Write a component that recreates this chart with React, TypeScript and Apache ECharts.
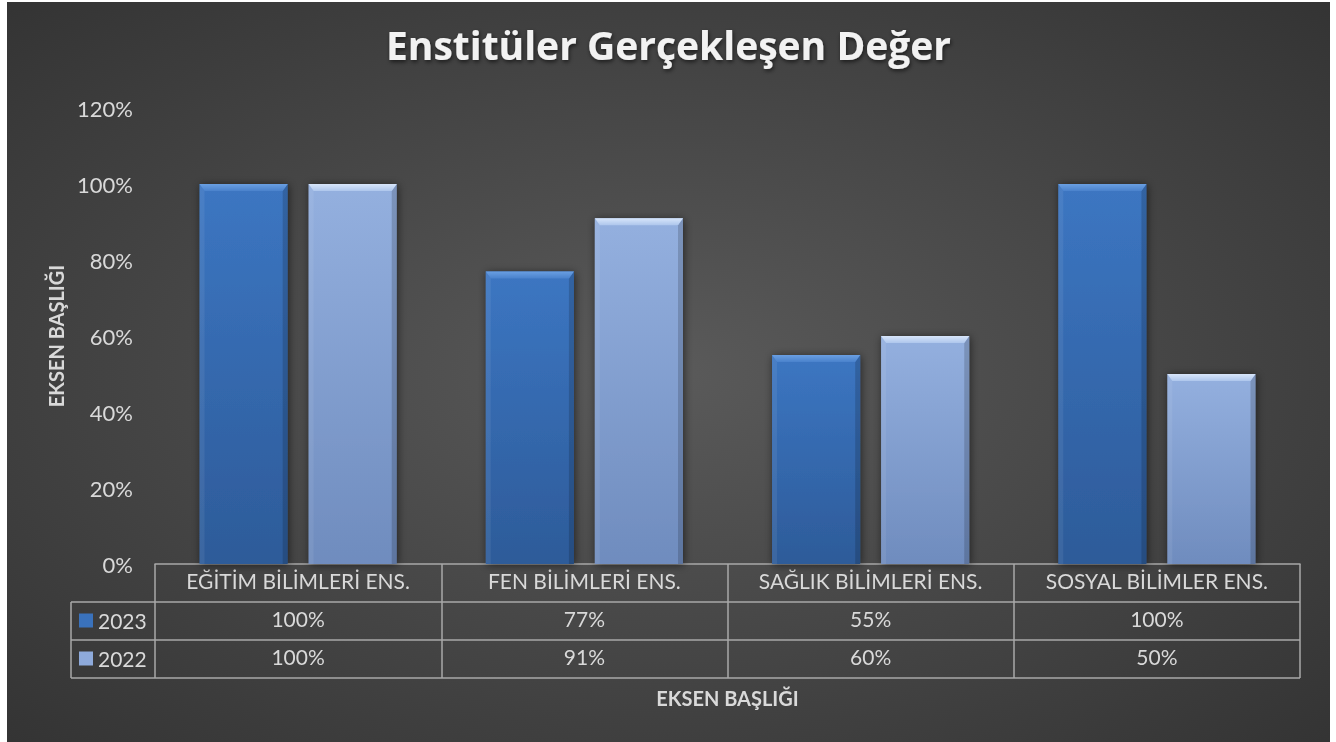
import React, { useEffect, useRef } from "react";
import * as echarts from "echarts";

const categories = [
  "EĞİTİM BİLİMLERİ ENS.",
  "FEN BİLİMLERİ ENS.",
  "SAĞLIK BİLİMLERİ ENS.",
  "SOSYAL BİLİMLER ENS.",
];
const seriesNames = ["2023", "2022"];
const values2023 = [100, 77, 55, 100];
const values2022 = [100, 91, 60, 50];
const yMin = 0;
const yMax = 120;
const yInterval = 20;
const titleText = "Enstitüler Gerçekleşen Değer";
const axisTitle = "EKSEN BAŞLIĞI";

const W = 1323;
const H = 740;
const GRID = { left: 148, right: 30, top: 106, bottom: 178 };
const ROW_H = 38;
const ROW_LEFT = 64;
const LINE_COLOR = "#a8a8a8";
const TEXT_COLOR = "#d9d9d9";
const FONT = "Lato, 'Open Sans', sans-serif";
const LABEL_SIZE = 21;

const palettes = [
  {
    base: "#3a72bc",
    body: ["#3c76c2", "#2d5b99"],
    top: ["#6a9fe2", "#4a82cc"],
  },
  {
    base: "#8eaadb",
    body: ["#94b0df", "#6f8cbe"],
    top: ["#d8e6fa", "#aec6ec"],
  },
];

function pct(v: number) {
  return v + "%";
}

function makeRender(s: number) {
  const p = palettes[s];
  return (_params: any, api: any) => {
    const cat = api.value(0);
    const val = api.value(1);
    const base = api.coord([cat, 0]);
    const topPt = api.coord([cat, val]);
    const band = api.size([1, 0])[0];
    const bw = band * 0.308;
    const gap = band * 0.073;
    const cx = base[0];
    const x = s === 0 ? cx - gap / 2 - bw : cx + gap / 2;
    const y0 = base[1];
    const y1 = topPt[1];
    const h = y0 - y1;
    const b = 7;
    const sd = 5;
    return {
      type: "group",
      children: [
        {
          type: "rect",
          shape: { x, y: y1, width: bw, height: h },
          style: {
            fill: new echarts.graphic.LinearGradient(0, 0, 0, 1, [
              { offset: 0, color: p.body[0] },
              { offset: 1, color: p.body[1] },
            ]),
            shadowBlur: 8,
            shadowColor: "rgba(0,0,0,0.55)",
            shadowOffsetX: 1,
            shadowOffsetY: 1,
          },
        },
        {
          type: "polygon",
          shape: {
            points: [
              [x, y1],
              [x + sd, y1 + b],
              [x + sd, y0],
              [x, y0],
            ],
          },
          style: { fill: "rgba(255,255,255,0.07)" },
        },
        {
          type: "polygon",
          shape: {
            points: [
              [x + bw, y1],
              [x + bw - sd, y1 + b],
              [x + bw - sd, y0],
              [x + bw, y0],
            ],
          },
          style: { fill: "rgba(0,0,0,0.16)" },
        },
        {
          type: "polygon",
          shape: {
            points: [
              [x, y1],
              [x + bw, y1],
              [x + bw - sd, y1 + b],
              [x + sd, y1 + b],
            ],
          },
          style: {
            fill: new echarts.graphic.LinearGradient(0, 0, 0, 1, [
              { offset: 0, color: p.top[0] },
              { offset: 1, color: p.top[1] },
            ]),
          },
        },
      ],
    };
  };
}

export default function App() {
  const ref = useRef<HTMLDivElement>(null);

  useEffect(() => {
    if (!ref.current) return;
    const chart = echarts.init(ref.current, undefined, { renderer: "svg" });
    const plotRight = W - GRID.right;
    const plotBottom = H - GRID.bottom;
    const rowLines = [1, 2, 3].map((k) => ({
      type: "line",
      z: 50,
      shape: { x1: ROW_LEFT, y1: plotBottom + ROW_H * k, x2: plotRight, y2: plotBottom + ROW_H * k },
      style: { stroke: LINE_COLOR, lineWidth: 1.5 },
    }));
    const valueAxis = (idx: number, vals: number[]) => ({
      type: "category",
      data: categories,
      position: "bottom",
      offset: ROW_H * idx,
      axisLine: { show: false },
      axisTick: { show: false },
      axisLabel: {
        color: TEXT_COLOR,
        fontFamily: FONT,
        fontSize: LABEL_SIZE,
        margin: 6,
        interval: 0,
        formatter: (_v: string, i: number) => pct(vals[i]),
      },
    });

    const option: any = {
      animation: false,
      graphic: [
        {
          type: "rect",
          z: -100,
          silent: true,
          shape: { x: 0, y: 0, width: W, height: H },
          style: {
            fill: new echarts.graphic.RadialGradient(0.5, 0.5, 1.0, [
              { offset: 0, color: "#5a5a5a" },
              { offset: 1, color: "#242424" },
            ]),
          },
        },
        ...rowLines,
        {
          type: "line",
          z: 50,
          shape: { x1: ROW_LEFT, y1: plotBottom + ROW_H, x2: ROW_LEFT, y2: plotBottom + ROW_H * 3 },
          style: { stroke: LINE_COLOR, lineWidth: 1.5 },
        },
      ],
      title: {
        text: titleText,
        left: "center",
        top: 18,
        textStyle: {
          color: "#f2f2f2",
          fontFamily: "'Open Sans', Lato, sans-serif",
          fontWeight: "bold",
          fontSize: 39,
          textShadowColor: "rgba(0,0,0,0.6)",
          textShadowBlur: 4,
          textShadowOffsetX: 1,
          textShadowOffsetY: 2,
        },
      },
      legend: {
        orient: "vertical",
        left: 67,
        top: plotBottom + ROW_H + 3,
        itemGap: 17,
        itemWidth: 14,
        itemHeight: 14,
        icon: "rect",
        data: seriesNames,
        textStyle: { color: TEXT_COLOR, fontFamily: FONT, fontSize: LABEL_SIZE, lineHeight: 21 },
      },
      grid: { ...GRID },
      xAxis: [
        {
          type: "category",
          data: categories,
          position: "bottom",
          axisLine: { show: true, lineStyle: { color: LINE_COLOR, width: 1.5 } },
          axisTick: { show: true, length: ROW_H * 3, lineStyle: { color: LINE_COLOR, width: 1.5 } },
          axisLabel: { color: TEXT_COLOR, fontFamily: FONT, fontSize: LABEL_SIZE, margin: 6, interval: 0 },
          name: axisTitle,
          nameLocation: "middle",
          nameGap: 134,
          nameTextStyle: {
            color: TEXT_COLOR,
            fontFamily: FONT,
            fontWeight: "bold",
            fontSize: 20,
            verticalAlign: "middle",
          },
        },
        valueAxis(1, values2023),
        valueAxis(2, values2022),
      ],
      yAxis: {
        type: "value",
        min: yMin,
        max: yMax,
        interval: yInterval,
        axisLine: { show: false },
        axisTick: { show: false },
        splitLine: { show: false },
        axisLabel: {
          color: TEXT_COLOR,
          fontFamily: FONT,
          fontSize: 22,
          margin: 22,
          formatter: "{value}%",
        },
        name: axisTitle,
        nameLocation: "middle",
        nameGap: 94,
        nameRotate: 90,
        nameTextStyle: {
          color: TEXT_COLOR,
          fontFamily: FONT,
          fontWeight: "bold",
          fontSize: 20,
          verticalAlign: "middle",
        },
      },
      series: [
        {
          name: seriesNames[0],
          type: "custom",
          xAxisIndex: 0,
          yAxisIndex: 0,
          itemStyle: { color: palettes[0].base },
          encode: { x: 0, y: 1 },
          data: values2023.map((v, i) => [i, v]),
          renderItem: makeRender(0),
        },
        {
          name: seriesNames[1],
          type: "custom",
          xAxisIndex: 0,
          yAxisIndex: 0,
          itemStyle: { color: palettes[1].base },
          encode: { x: 0, y: 1 },
          data: values2022.map((v, i) => [i, v]),
          renderItem: makeRender(1),
        },
      ],
    };
    chart.setOption(option);
    return () => chart.dispose();
  }, []);

  return (
    <div
      ref={ref}
      style={{ position: "fixed", left: 7, top: 2, width: W, height: H }}
    />
  );
}
